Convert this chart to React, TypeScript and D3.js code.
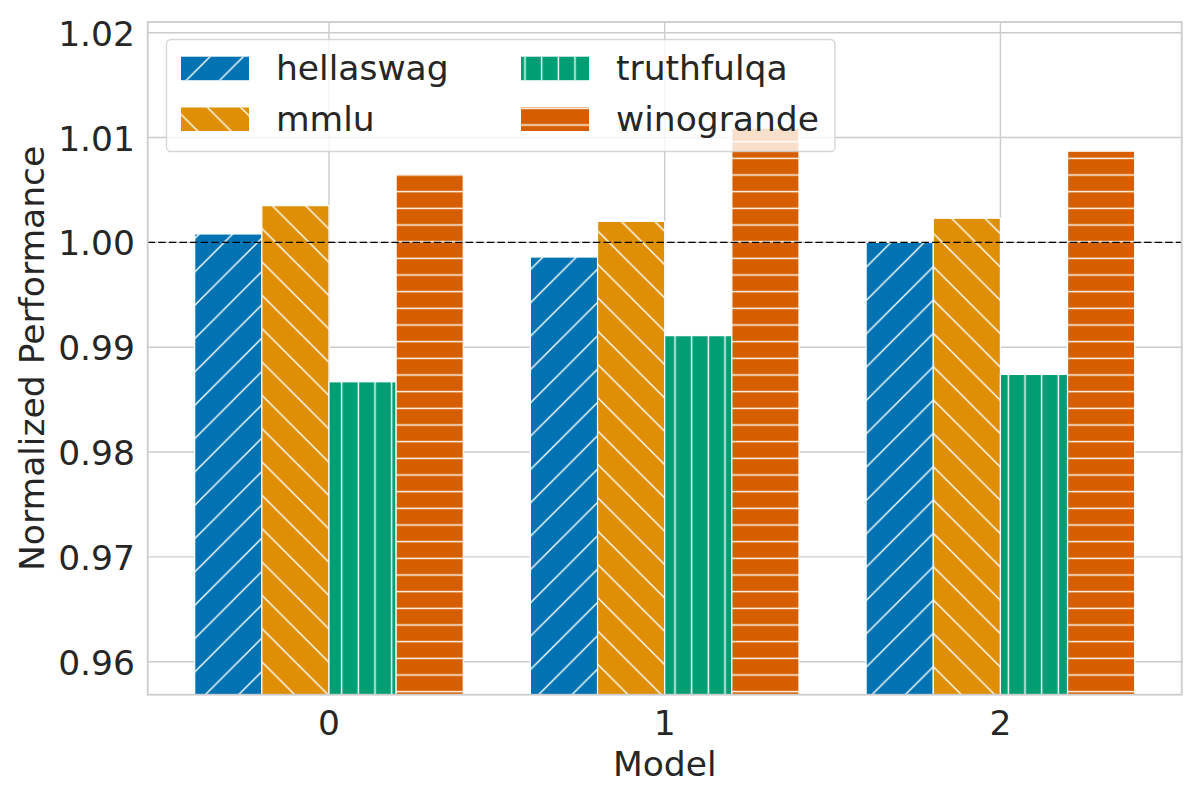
import React from 'react';
import * as d3 from 'd3';

// values
const models = ['0', '1', '2'];
const benchmarks = ['hellaswag', 'mmlu', 'truthfulqa', 'winogrande'];
const hellaswag = [1.0008, 0.9986, 1.0];
const mmlu = [1.0035, 1.002, 1.0023];
const truthfulqa = [0.9867, 0.9911, 0.9874];
const winogrande = [1.0065, 1.0109, 1.0087];
const yTicks = [0.96, 0.97, 0.98, 0.99, 1.0, 1.01, 1.02];
const colors = ['#0173B2', '#DE8F05', '#029E73', '#D55E00'];
const hatches = ['ne', 'se', 'vert', 'horiz'];

const series = [hellaswag, mmlu, truthfulqa, winogrande];

const W = 1200;
const H = 800;
const left = 147.7;
const right = 1181.7;
const top = 22;
const bottom = 694.7;
const FONT = 'DejaVu Sans, sans-serif';
const TEXT = '#262626';
const GRID = '#cccccc';

const x = d3.scaleLinear().domain([-0.54, 2.54]).range([left, right]);
const y = d3.scaleLinear().domain([0.95685, 1.02102]).range([bottom, top]);
const inner = d3.scaleBand<string>().domain(benchmarks).range([-0.4, 0.4]);

const D = 200 / 6; // diagonal hatch spacing
const S = 200 / 12; // straight hatch spacing

const Patterns: React.FC = () => (
  <defs>
    <pattern id="ne" patternUnits="userSpaceOnUse" x={0} y={0} width={D} height={D}>
      <g stroke="#fff" strokeWidth={1.4}>
        <line x1={-2} y1={D + 2} x2={D + 2} y2={-2} />
        <line x1={-4} y1={4} x2={4} y2={-4} />
        <line x1={D - 4} y1={D + 4} x2={D + 4} y2={D - 4} />
      </g>
    </pattern>
    <pattern id="se" patternUnits="userSpaceOnUse" x={0} y={0} width={D} height={D}>
      <g stroke="#fff" strokeWidth={1.4}>
        <line x1={-2} y1={-2} x2={D + 2} y2={D + 2} />
        <line x1={-4} y1={D - 4} x2={4} y2={D + 4} />
        <line x1={D - 4} y1={-4} x2={D + 4} y2={4} />
      </g>
    </pattern>
    <pattern id="vert" patternUnits="userSpaceOnUse" x={0} y={0} width={S} height={S}>
      <line x1={S / 2} y1={0} x2={S / 2} y2={S} stroke="#fff" strokeWidth={1.4} />
    </pattern>
    <pattern id="horiz" patternUnits="userSpaceOnUse" x={0} y={0} width={S} height={S}>
      <line x1={0} y1={S / 2} x2={S} y2={S / 2} stroke="#fff" strokeWidth={1.4} />
    </pattern>
    <clipPath id="plot">
      <rect x={left} y={top} width={right - left} height={bottom - top} />
    </clipPath>
  </defs>
);

const App: React.FC = () => {
  const barW = x(inner.bandwidth()) - x(0);

  return (
    <svg
      width={W}
      height={H}
      style={{ position: 'absolute', left: 0, top: 0, background: '#fff' }}
      fontFamily={FONT}
    >
      <Patterns />

      {/* grid */}
      <g stroke={GRID} strokeWidth={1.4}>
        {yTicks.map(t => (
          <line key={t} x1={left} x2={right} y1={y(t)} y2={y(t)} />
        ))}
        {models.map((m, i) => (
          <line key={m} x1={x(i)} x2={x(i)} y1={top} y2={bottom} />
        ))}
      </g>

      {/* bars */}
      <g clipPath="url(#plot)">
        {series.map((vals, si) =>
          vals.map((v, mi) => {
            const bx = x(mi + (inner(benchmarks[si]) as number));
            const by = y(v);
            return (
              <g key={`${si}-${mi}`}>
                <rect x={bx} y={by} width={barW} height={bottom - by + 2} fill={colors[si]} />
                <rect
                  x={bx}
                  y={by}
                  width={barW}
                  height={bottom - by + 2}
                  fill={`url(#${hatches[si]})`}
                  stroke="#fff"
                  strokeWidth={1.2}
                />
              </g>
            );
          })
        )}
      </g>

      {/* reference line */}
      <line
        x1={left}
        x2={right}
        y1={y(1)}
        y2={y(1)}
        stroke="#000"
        strokeWidth={1.4}
        strokeDasharray="7.4,3.2"
      />

      {/* spines */}
      <rect
        x={left}
        y={top}
        width={right - left}
        height={bottom - top}
        fill="none"
        stroke={GRID}
        strokeWidth={1.8}
      />

      {/* y ticks */}
      <g fontSize={34.5} fill={TEXT} textAnchor="end">
        {yTicks.map(t => (
          <text key={t} x={135} y={y(t) + 13}>
            {t.toFixed(2)}
          </text>
        ))}
      </g>

      {/* x ticks */}
      <g fontSize={34.5} fill={TEXT} textAnchor="middle">
        {models.map((m, i) => (
          <text key={m} x={x(i)} y={735}>
            {m}
          </text>
        ))}
      </g>

      <text x={(left + right) / 2} y={776} fontSize={34.5} fill={TEXT} textAnchor="middle">
        Model
      </text>
      <text
        transform={`translate(43.5, ${(top + bottom) / 2}) rotate(-90)`}
        fontSize={34.5}
        fill={TEXT}
        textAnchor="middle"
      >
        Normalized Performance
      </text>

      {/* legend */}
      <g>
        <rect
          x={166.5}
          y={39.5}
          width={668.5}
          height={112}
          rx={4.5}
          fill="#fff"
          fillOpacity={0.8}
          stroke={GRID}
          strokeOpacity={0.8}
          strokeWidth={1.4}
        />
        {benchmarks.map((b, i) => {
          const col = Math.floor(i / 2);
          const row = i % 2;
          const hx = col === 0 ? 181 : 521;
          const hy = row === 0 ? 56.7 : 107.5;
          return (
            <g key={b}>
              <rect x={hx} y={hy} width={68} height={23.5} fill={colors[i]} />
              <rect x={hx} y={hy} width={68} height={23.5} fill={`url(#${hatches[i]})`} />
              <text x={hx + 95} y={hy + 23.5} fontSize={34.5} fill={TEXT}>
                {b}
              </text>
            </g>
          );
        })}
      </g>
    </svg>
  );
};

export default App;
